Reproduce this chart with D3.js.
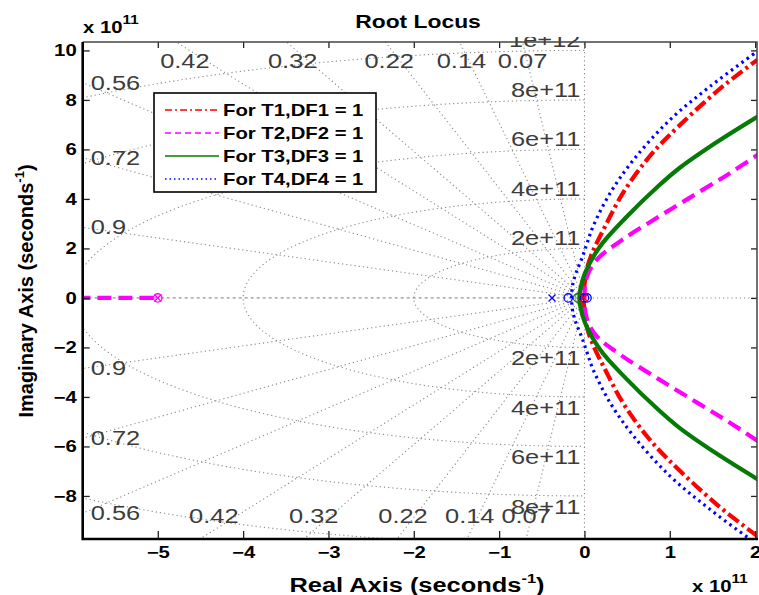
<!DOCTYPE html>
<html lang="en">
<head>
<meta charset="UTF-8">
<title>Root Locus</title>
<script src="https://cdn.jsdelivr.net/npm/d3@7"></script>
<style>
  body { margin: 0; background: #fff; }
  svg { display: block; font-family: "Liberation Sans", Arial, sans-serif; }
</style>
</head>
<body>
<div id="container"></div>
<script>
// legend entries
const seriesNames = ["For T1,DF1 = 1", "For T2,DF2 = 1", "For T3,DF3 = 1", "For T4,DF4 = 1"];
// upper branches, [real, imag] in units of 1e11 s^-1 (lower branch is the conjugate)
const branchT1 = [[-0.01, 0], [0.0, 0.5], [0.03, 1.2], [0.09, 1.81], [0.24, 2.88], [0.45, 4.23], [0.73, 5.58], [0.98, 6.52], [1.57, 8.4], [2.03, 9.63]];
const branchT2 = [[0.0, 0], [0.03, 0.86], [0.14, 1.53], [0.44, 2.34], [0.87, 3.28], [1.32, 4.23], [1.70, 5.03], [2.03, 5.78]];
const branchT3 = [[-0.06, 0], [-0.045, 0.4], [0.006, 1.0], [0.18, 2.07], [0.495, 3.28], [0.86, 4.5], [1.11, 5.24], [1.53, 6.25], [2.03, 7.33]];
const branchT4 = [[-0.15, 0], [-0.14, 0.5], [-0.10, 1.0], [-0.03, 1.6], [0.03, 2.2], [0.10, 2.88], [0.30, 4.23], [0.58, 5.6], [1.0, 7.19], [1.47, 8.54], [2.03, 9.97]];
// real-axis branch of T2 ending on its zero
const realBranchT2 = [[-6.2, 0], [-5, 0]];
// poles (x) and zeros (o) on the real axis: [series index, kind, real]
const markers = [[1, "o", -5], [1, "x", -5], [3, "x", -0.38], [3, "o", -0.19], [2, "o", -0.08], [3, "o", 0.0], [3, "o", 0.03], [0, "x", -0.01]];

const xTicks = [-5, -4, -3, -2, -1, 0, 1, 2];
const yTicks = [-8, -6, -4, -2, 0, 2, 4, 6, 8, 10];
const dampingRatios = [0.07, 0.14, 0.22, 0.32, 0.42, 0.56, 0.72, 0.9];
const naturalFreqs = [2, 4, 6, 8, 10];
const freqLabels = ["2e+11", "4e+11", "6e+11", "8e+11", "1e+12"];

// drawing styles, same order as seriesNames
const styles = [
  { color: "#ff0000", dash: "13,4,3,4", width: 4.2 },
  { color: "#ff00ff", dash: "14,7", width: 4.2 },
  { color: "#067a06", dash: null, width: 4.2 },
  { color: "#0000ff", dash: "2.5,4", width: 3.2 }
];

const W = 759, H = 595;
const L = 82.7, R = 757, T = 42, B = 539;
const STRETCH = 1.27; // the reference text is wider than plain Arial

const x = d3.scaleLinear().domain([-5.88, 2.022]).range([L, R]);
const y = d3.scaleLinear().domain([-9.74, 10.34]).range([B, T]);

const svg = d3.select("#container").append("svg").attr("width", W).attr("height", H);
svg.append("rect").attr("width", W).attr("height", H).attr("fill", "#fff");

svg.append("defs").append("clipPath").attr("id", "plotclip")
  .append("rect").attr("x", L).attr("y", T).attr("width", R - L).attr("height", B - T);
svg.select("defs").append("clipPath").attr("id", "labelclip")
  .append("rect").attr("x", L).attr("y", 37).attr("width", R - L).attr("height", B - 37);

// move x/y into a transform so the glyphs can be widened
function wide(sel) {
  sel.each(function () {
    const t = d3.select(this);
    const tx = +t.attr("x") || 0, ty = +t.attr("y") || 0;
    t.attr("x", 0).attr("y", 0).attr("transform", `translate(${tx},${ty}) scale(${STRETCH},1)`);
  });
}

const line = d3.line().x(d => x(d[0])).y(d => y(d[1]));

// ---- sgrid ----
const grid = svg.append("g").attr("clip-path", "url(#plotclip)")
  .attr("fill", "none").attr("stroke", "#8a8a8a").attr("stroke-width", 1.1).attr("stroke-dasharray", "1.2,3");

naturalFreqs.forEach(r => {
  const pts = d3.range(90, 271, 2).map(a => [r * Math.cos(a * Math.PI / 180), r * Math.sin(a * Math.PI / 180)]);
  grid.append("path").attr("d", line(pts));
});
dampingRatios.forEach(z => {
  const s = Math.sqrt(1 - z * z);
  grid.append("path").attr("d", line([[0, 0], [-z * 30, s * 30]]));
  grid.append("path").attr("d", line([[0, 0], [-z * 30, -s * 30]]));
});
grid.append("path").attr("d", line([[0, -12], [0, 12]]));
grid.append("path").attr("d", line([[0, 0], [3, 0]]));
svg.append("path").attr("d", line([[x.domain()[0], 0], [0, 0]]))
  .attr("stroke", "#777").attr("stroke-width", 1).attr("stroke-dasharray", "3,3").attr("fill", "none");

// damping ratio labels where the rays leave the box
const glab = svg.append("g").attr("font-size", 20).attr("fill", "#3c3c3c");
const [xmin] = x.domain();
const [ymin, ymax] = y.domain();
dampingRatios.forEach(z => {
  const s = Math.sqrt(1 - z * z);
  const xt = -z * ymax / s;
  if (xt >= xmin) {
    glab.append("text").attr("x", x(xt) + (z - 0.07) * 25).attr("y", T + 26).attr("text-anchor", "middle").text(z);
    glab.append("text").attr("x", x(z * ymin / s) + (z - 0.07) * 40).attr("y", B - 16).attr("text-anchor", "middle").text(z);
  } else {
    const ye = -xmin * s / z;
    glab.append("text").attr("x", L + 8).attr("y", y(ye) + 7).text(z);
    glab.append("text").attr("x", L + 8).attr("y", y(-ye) + 7).text(z);
  }
});
// natural frequency labels along the imaginary axis
const flab = glab.append("g").attr("clip-path", "url(#labelclip)");
naturalFreqs.forEach((r, i) => {
  flab.append("text").attr("x", x(0) - 4).attr("y", y(r) - 3).attr("text-anchor", "end").text(freqLabels[i]);
  if (-r > ymin) flab.append("text").attr("x", x(0) - 4).attr("y", y(-r) + 18).attr("text-anchor", "end").text(freqLabels[i]);
});
wide(glab.selectAll("text"));

// ---- loci ----
const curve = d3.line().x(d => x(d[0])).y(d => y(d[1])).curve(d3.curveCatmullRom.alpha(0.5));
const loci = svg.append("g").attr("clip-path", "url(#plotclip)").attr("fill", "none");
[branchT1, branchT2, branchT3, branchT4].forEach((up, i) => {
  const low = up.slice(1).map(p => [p[0], -p[1]]).reverse();
  loci.append("path").attr("d", curve(low.concat(up)))
    .attr("stroke", styles[i].color).attr("stroke-width", styles[i].width)
    .attr("stroke-dasharray", styles[i].dash);
});
loci.append("path").attr("d", line(realBranchT2))
  .attr("stroke", styles[1].color).attr("stroke-width", styles[1].width).attr("stroke-dasharray", styles[1].dash);

markers.forEach(([si, kind, re]) => {
  const cx = x(re), cy = y(0), c = styles[si].color;
  if (kind === "o") {
    loci.append("circle").attr("cx", cx).attr("cy", cy).attr("r", 4.2).attr("stroke", c).attr("stroke-width", 1.3);
  } else {
    const k = 3.5;
    loci.append("path").attr("d", `M${cx - k},${cy - k}L${cx + k},${cy + k}M${cx - k},${cy + k}L${cx + k},${cy - k}`)
      .attr("stroke", c).attr("stroke-width", 1.3);
  }
});

// ---- axes ----
const tickFont = g => g.selectAll("text").attr("font-size", 16).attr("font-weight", "bold").attr("fill", "#000");
const ax = svg.append("g");
const yAx = ax.append("g").attr("transform", `translate(${L},0)`)
  .call(d3.axisLeft(y).tickValues(yTicks).tickSize(-7).tickPadding(6)).call(tickFont);
const xAx = ax.append("g").attr("transform", `translate(0,${B})`)
  .call(d3.axisBottom(x).tickValues(xTicks).tickSize(-8).tickPadding(8)).call(tickFont);
ax.append("g").attr("transform", `translate(0,${T})`)
  .call(d3.axisTop(x).tickValues(xTicks).tickSize(-6).tickFormat(""));
ax.append("g").attr("transform", `translate(${R},0)`)
  .call(d3.axisRight(y).tickValues(yTicks).tickSize(-6).tickFormat(""));
ax.selectAll(".domain").remove();
ax.selectAll(".tick line").attr("stroke", "#222").attr("stroke-width", 1.3);
wide(yAx.selectAll("text"));
wide(xAx.selectAll("text"));

// frame: heavy left/bottom, lighter top/right
svg.append("path").attr("d", `M${L},${T}H${R}V${B}`).attr("fill", "none").attr("stroke", "#444").attr("stroke-width", 1.5);
svg.append("path").attr("d", `M${L},${T}V${B}H${R + 1}`).attr("fill", "none").attr("stroke", "#000").attr("stroke-width", 2.6);

// ---- legend ----
const lg = svg.append("g").attr("transform", "translate(154,93)");
lg.append("rect").attr("width", 222).attr("height", 99).attr("fill", "#fff").attr("stroke", "#000").attr("stroke-width", 1.6);
seriesNames.forEach((name, i) => {
  const yy = 17 + i * 23;
  lg.append("line").attr("x1", 11).attr("x2", 65).attr("y1", yy).attr("y2", yy)
    .attr("stroke", styles[i].color).attr("stroke-width", 1.3)
    .attr("stroke-dasharray", i === 0 ? "7,3,2,3" : i === 1 ? "6,4" : i === 3 ? "1.5,3" : null);
  lg.append("text").attr("class", "lt").attr("x", 69).attr("y", yy + 6)
    .attr("font-size", 16).attr("font-weight", "bold").text(name);
});
wide(lg.selectAll("text.lt"));

// ---- titles ----
const tt = svg.append("g").attr("font-weight", "bold").attr("fill", "#000");
tt.append("text").attr("x", 418).attr("y", 28).attr("text-anchor", "middle").attr("font-size", 18).text("Root Locus");

function expo(xx, yy) {
  const t = tt.append("text").attr("x", xx).attr("y", yy).attr("font-size", 16);
  t.append("tspan").text("x 10");
  t.append("tspan").attr("font-size", 12).attr("dy", -9).text("11");
  return t;
}
wide(tt.selectAll("text"));
wide(expo(83, 33));
wide(expo(692, 592));

const xl = tt.append("text").attr("x", 417).attr("y", 592).attr("text-anchor", "middle").attr("font-size", 20);
xl.append("tspan").text("Real Axis (seconds");
xl.append("tspan").attr("font-size", 13).attr("dy", -9).text("-1");
xl.append("tspan").attr("dy", 9).text(")");
wide(xl);

const yl = tt.append("text").attr("transform", "translate(33,291) rotate(-90)").attr("text-anchor", "middle").attr("font-size", 20);
yl.append("tspan").text("Imaginary Axis (seconds");
yl.append("tspan").attr("font-size", 13).attr("dy", -9).text("-1");
yl.append("tspan").attr("dy", 9).text(")");
</script>
</body>
</html>
